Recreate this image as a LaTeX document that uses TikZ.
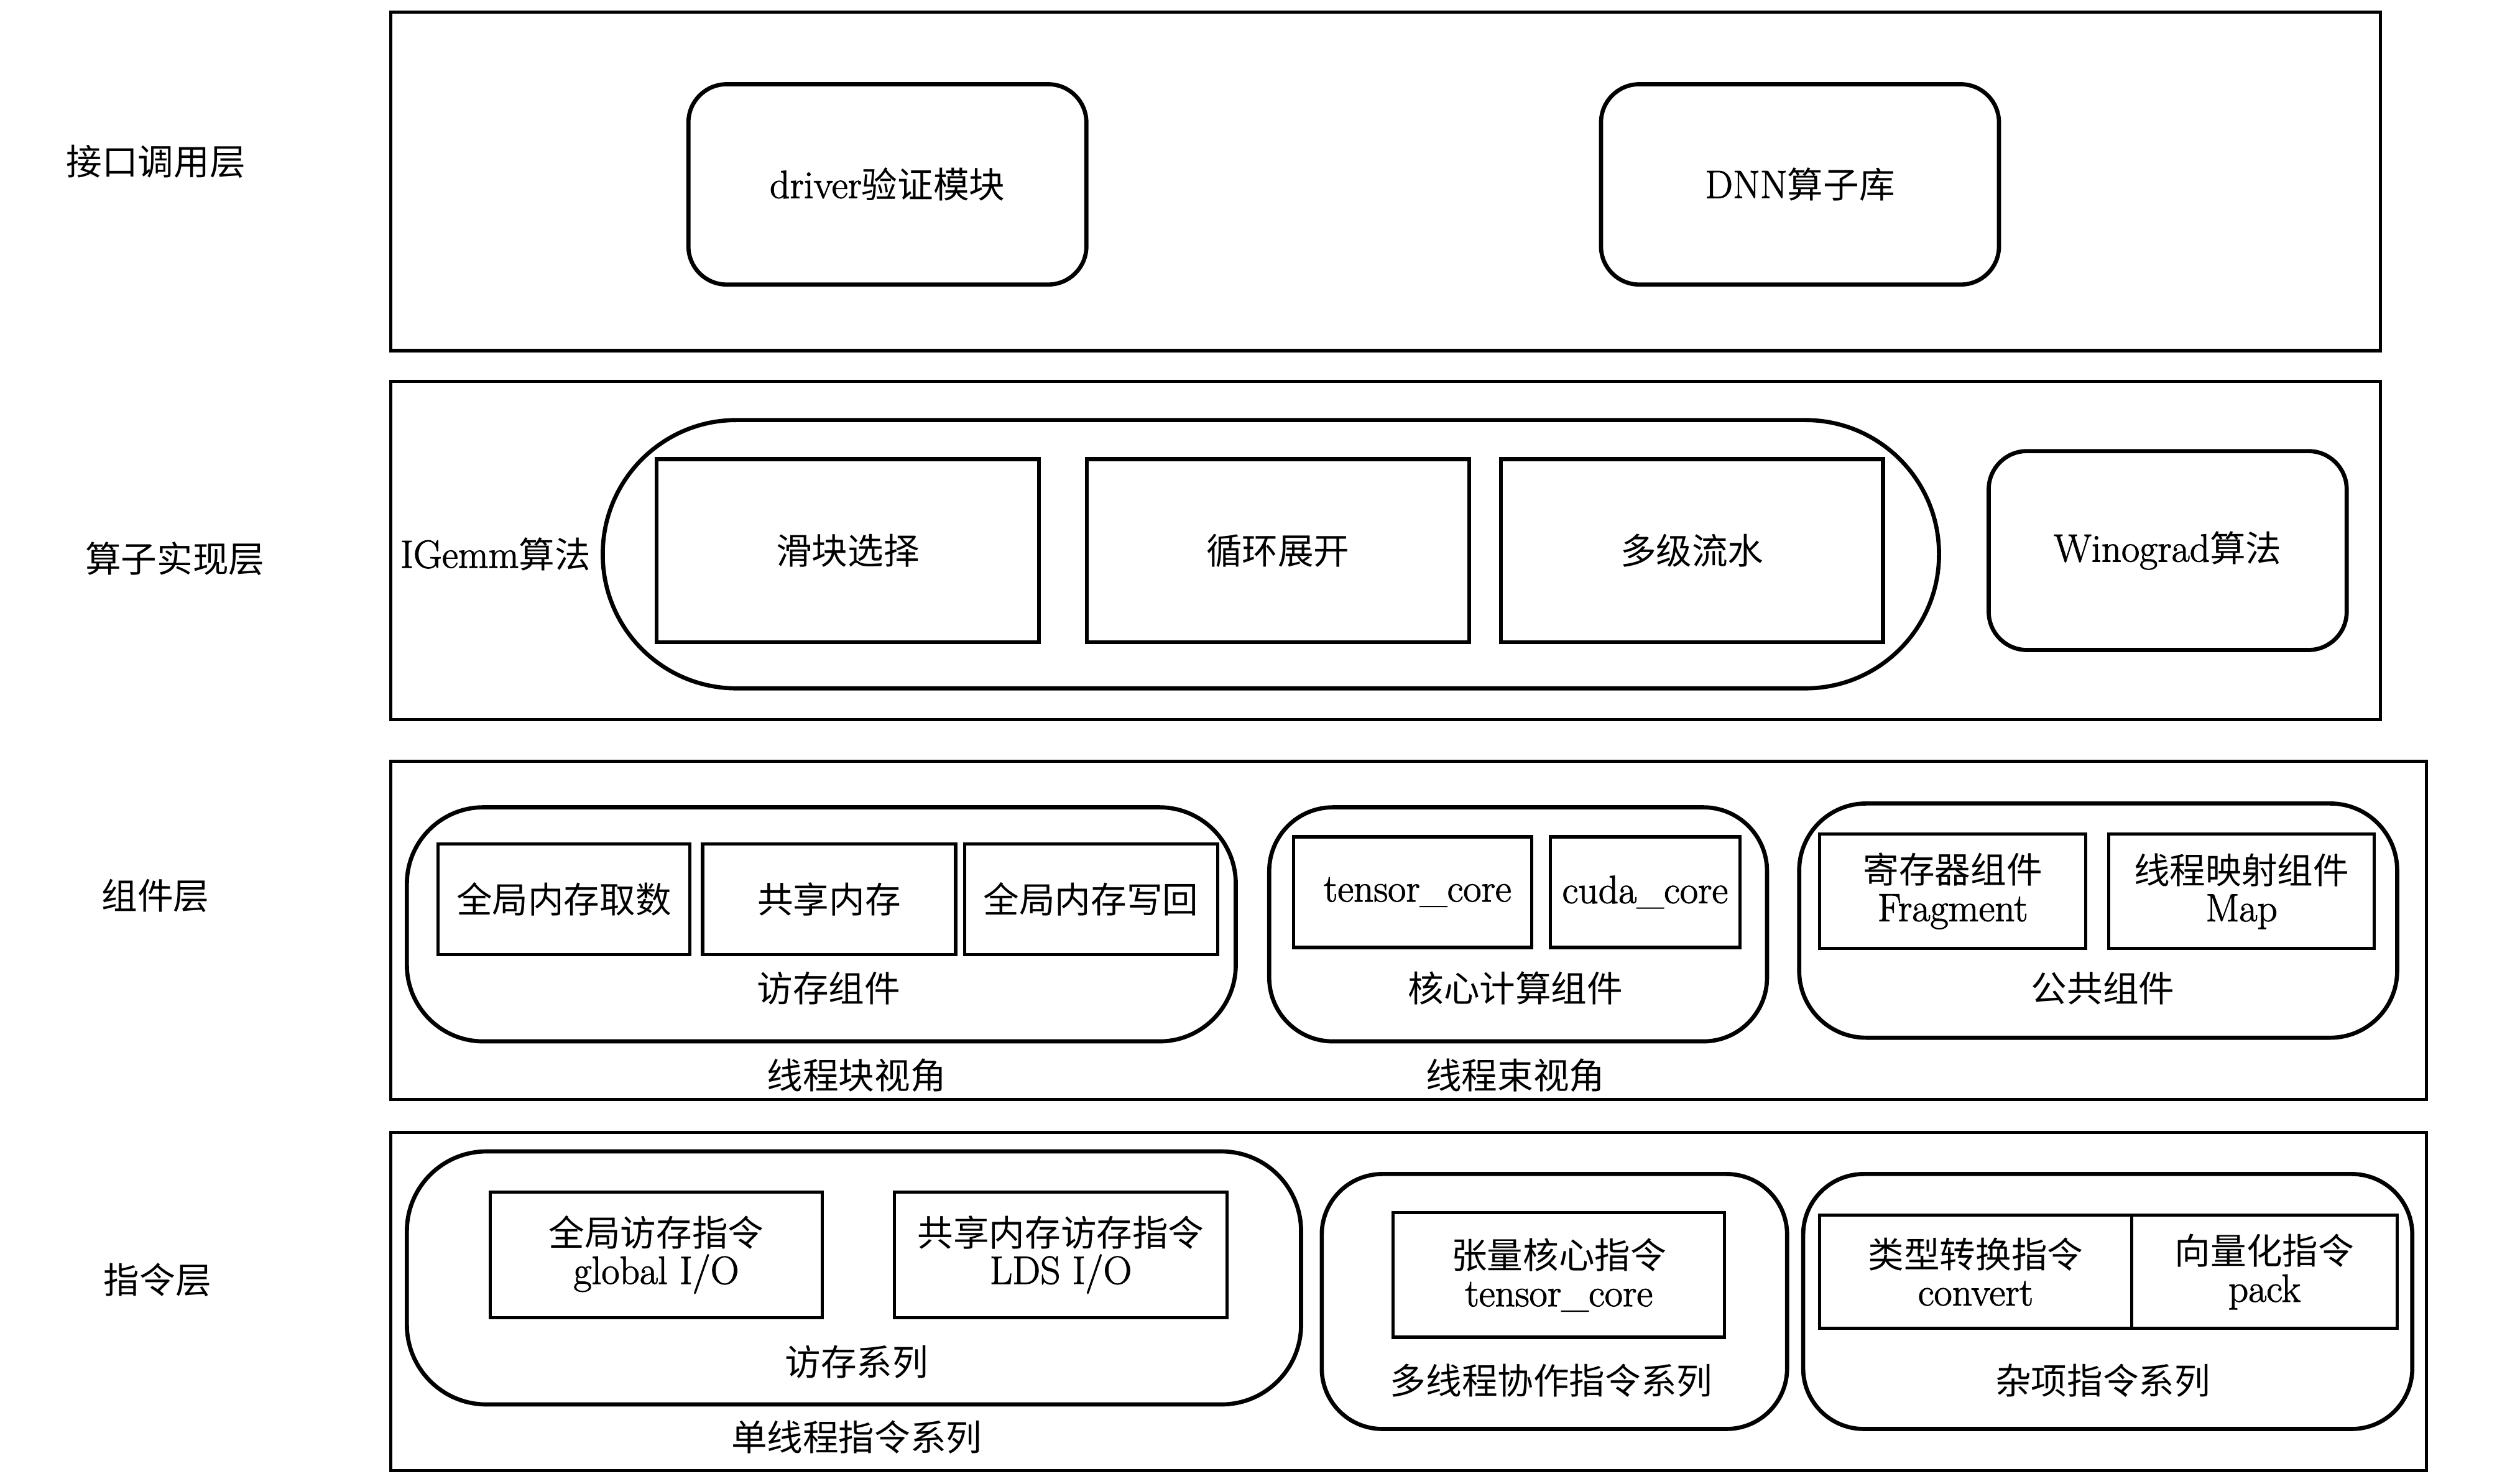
\documentclass[tikz,border=0pt]{standalone}
\usepackage{fontspec}
\setmainfont{Latin Modern Roman}[Scale=1.1,RawFeature={embolden=1.6}]
\newfontfamily\cjk{Noto Sans CJK SC}
\newcommand\zh[1]{{\cjk #1}}
\begin{document}
\begin{tikzpicture}[x=1pt,y=-1pt,
  every node/.style={inner sep=0pt,outer sep=0pt,font=\fontsize{22.5}{23.7}\selectfont,align=center},
  layer/.style={draw,line width=2pt},
  rbox/.style={draw,line width=2.6pt,rounded corners=24pt},
  sbox/.style={draw,line width=2.5pt},
  pill/.style={draw,line width=2.6pt},
  tbox/.style={draw,line width=2pt},
  lbl/.style={}
]
\useasboundingbox (0,0) rectangle (1568,931.6);

% layers
\node[layer,minimum width=1249.2pt,minimum height=212.7pt] (L1) at (870.1,113.85) {};
\node[layer,minimum width=1249.2pt,minimum height=212.5pt] (L2) at (870.1,345.75) {};
\node[layer,minimum width=1278.3pt,minimum height=212.6pt] (L3) at (884.65,584.3) {};
\node[layer,minimum width=1278.3pt,minimum height=212.1pt] (L4) at (884.65,817.35) {};

\node[lbl] (t1) at (97.9,101.6) {\zh{接口调用层}};
\node[lbl] (t2) at (109.8,351) {\zh{算子实现层}};
\node[lbl] (t3) at (97.6,562.4) {\zh{组件层}};
\node[lbl] (t4) at (98.9,803.7) {\zh{指令层}};

% layer 1
\node[rbox,minimum width=249.9pt,minimum height=125.8pt] (drv) at (557.25,115.8) {driver\zh{验证模块}};
\node[rbox,minimum width=249.9pt,minimum height=125.8pt] (dnn) at (1130.3,115.8) {DNN\zh{算子库}};

% layer 2
\node[pill,rounded corners=84pt,minimum width=839.1pt,minimum height=168.5pt] (ig) at (798.05,348.05) {};
\node[lbl,anchor=west] (igl) at (251.5,348) {IGemm\zh{算法}};
\node[sbox,minimum width=240.1pt,minimum height=115.1pt] (hk) at (532.35,345.85) {\zh{滑块选择}};
\node[sbox,minimum width=240.1pt,minimum height=115.1pt] (xh) at (802.45,345.85) {\zh{循环展开}};
\node[sbox,minimum width=240pt,minimum height=115.1pt] (dj) at (1062.5,345.85) {\zh{多级流水}};
\node[rbox,minimum width=224.8pt,minimum height=124.9pt] (wg) at (1361.2,345.75) {Winograd\zh{算法}};

% layer 3
\node[pill,rounded corners=48pt,minimum width=520.5pt,minimum height=147pt] (fc) at (515.75,580.5) {};
\node[tbox,minimum width=158.4pt,minimum height=69.4pt] (qq) at (354.1,564.7) {\zh{全局内存取数}};
\node[tbox,minimum width=158.9pt,minimum height=69.4pt] (gx) at (520.65,564.7) {\zh{共享内存}};
\node[tbox,minimum width=158.9pt,minimum height=69.4pt] (qx) at (685.05,564.7) {\zh{全局内存写回}};
\node[lbl] (fcl) at (520.4,620.6) {\zh{访存组件}};
\node[lbl] (xk) at (537.9,675.3) {\zh{线程块视角}};

\node[pill,rounded corners=40pt,minimum width=312.6pt,minimum height=147pt] (hx) at (953.3,580.5) {};
\node[tbox,minimum width=149.6pt,minimum height=69.5pt] (tc) at (887.1,560.25) {\hspace*{6pt}tensor\_core};
\node[tbox,minimum width=118.9pt,minimum height=69.5pt] (cc) at (1033.05,560.25) {cuda\_core};
\node[lbl] (hxl) at (951.6,620.6) {\zh{核心计算组件}};
\node[lbl] (xs) at (951.6,675.3) {\zh{线程束视角}};

\node[pill,rounded corners=42pt,minimum width=375.5pt,minimum height=147.1pt] (gg) at (1317.55,578.15) {};
\node[tbox,minimum width=167.2pt,minimum height=71.7pt] (jc) at (1226.2,559.65) {\zh{寄存器组件}\\Fragment};
\node[tbox,minimum width=166.8pt,minimum height=71.7pt] (ys) at (1407.6,559.65) {\zh{线程映射组件}\\Map};
\node[lbl] (ggl) at (1320.5,620.6) {\zh{公共组件}};

% layer 4
\node[pill,rounded corners=50pt,minimum width=561.5pt,minimum height=158.9pt] (fx) at (536.25,802.55) {};
\node[tbox,minimum width=208.6pt,minimum height=78.9pt] (qf) at (412.1,787.95) {\zh{全局访存指令}\\global I/O};
\node[tbox,minimum width=208.6pt,minimum height=78.9pt] (gf) at (666.1,787.95) {\zh{共享内存访存指令}\\LDS I/O};
\node[lbl] (fxl) at (537.9,855.5) {\zh{访存系列}};
\node[lbl] (dx) at (537.9,902.7) {\zh{单线程指令系列}};

\node[pill,rounded corners=38pt,minimum width=292.2pt,minimum height=160.1pt] (dxc) at (976.1,817.35) {};
\node[tbox,minimum width=208.2pt,minimum height=78.3pt] (zl) at (978.9,800.65) {\zh{张量核心指令}\\tensor\_core};
\node[lbl] (dxcl) at (974.2,867.2) {\zh{多线程协作指令系列}};

\node[pill,rounded corners=38pt,minimum width=382.5pt,minimum height=160.1pt] (zx) at (1323.55,817.35) {};
\node[tbox,minimum width=196pt,minimum height=71.2pt] (lx) at (1240.6,798.6) {\zh{类型转换指令}\\convert};
\node[tbox,minimum width=166.7pt,minimum height=71.2pt] (xl) at (1421.95,798.6) {\zh{向量化指令}\\pack};
\node[lbl] (zxl) at (1320.5,867.2) {\zh{杂项指令系列}};
\end{tikzpicture}
\end{document}
